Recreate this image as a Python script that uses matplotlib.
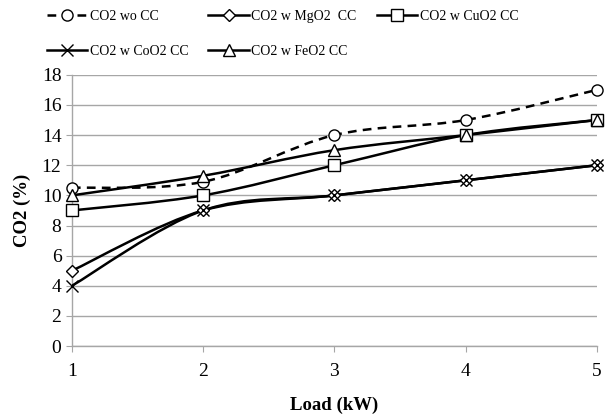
import matplotlib
matplotlib.use("Agg")
import matplotlib.pyplot as plt
import numpy as np
from matplotlib.path import Path
from matplotlib.patches import PathPatch
from matplotlib.lines import Line2D

plt.rcParams['font.family'] = ['Liberation Serif', 'DejaVu Serif']

load = [1, 2, 3, 4, 5]
co2_wo = [10.5, 10.9, 14, 15, 17]
co2_mgo = [5, 9, 10, 11, 12]
co2_cuo = [9, 10, 12, 14, 15]
co2_coo = [4, 9, 10, 11, 12]
co2_feo = [10, 11.3, 13, 14, 15]

labels = ["CO2 wo CC", "CO2 w MgO2  CC", "CO2 w CuO2 CC", "CO2 w CoO2 CC", "CO2 w FeO2 CC"]
series = [co2_wo, co2_mgo, co2_cuo, co2_coo, co2_feo]
markers = ["o", "D", "s", "x", "^"]
msizes = [8, 6.5, 8, 8.5, 8]
styles = [(0, (3.5, 2.5)), "-", "-", "-", "-"]


def smooth_path(x, y):
    # catmull-rom style bezier, like excel's smoothed line
    x = np.asarray(x, float)
    y = np.asarray(y, float)
    verts = [(x[0], y[0])]
    codes = [Path.MOVETO]
    n = len(x)
    for i in range(n - 1):
        i0 = max(i - 1, 0)
        i3 = min(i + 2, n - 1)
        c1 = (x[i] + (x[i + 1] - x[i0]) / 6, y[i] + (y[i + 1] - y[i0]) / 6)
        c2 = (x[i + 1] - (x[i3] - x[i]) / 6, y[i + 1] - (y[i3] - y[i]) / 6)
        verts += [c1, c2, (x[i + 1], y[i + 1])]
        codes += [Path.CURVE4] * 3
    return Path(verts, codes)


fig = plt.figure(figsize=(6.14, 4.18), dpi=100)
ax = fig.add_axes([0.117, 0.172, 0.855, 0.649])

handles = []
for y, lab, m, ms, ls in zip(series, labels, markers, msizes, styles):
    patch = PathPatch(smooth_path(load, y), fill=False, edgecolor="black",
                      lw=1.8, linestyle=ls, zorder=3)
    ax.add_patch(patch)
    ax.plot(load, y, linestyle="none", marker=m, ms=ms, mfc="white" if m != "x" else "black",
            mec="black", mew=1.0, zorder=4, clip_on=False)
    handles.append(Line2D([], [], color="black", lw=1.8, linestyle=ls, marker=m, ms=ms,
                          mfc="white", mec="black", mew=1.0))

ax.set_xlim(1, 5)
ax.set_ylim(0, 18)
ax.set_xticks(load)
ax.set_yticks(np.arange(0, 19, 2))
ax.grid(axis="y", color="#a6a6a6", lw=1.0)
ax.set_axisbelow(True)
for s in ["top", "right"]:
    ax.spines[s].set_visible(False)
for s in ["left", "bottom"]:
    ax.spines[s].set_color("#a6a6a6")
    ax.spines[s].set_linewidth(1.0)
ax.tick_params(axis="both", colors="#a6a6a6", labelcolor="black", labelsize=14, length=4)
ax.tick_params(axis="x", pad=8)
ax.set_xlabel("Load (kW)", fontsize=13.5, fontweight="bold", labelpad=12)
ax.set_ylabel("CO2 (%)", fontsize=13.5, fontweight="bold", labelpad=8)

order = [0, 3, 1, 4, 2]
fig.legend([handles[i] for i in order], [labels[i] for i in order], ncol=3,
           loc="upper left", bbox_to_anchor=(0.06, 1.0), frameon=False, fontsize=10,
           handlelength=2.9, handletextpad=0.2, columnspacing=1.45, labelspacing=1.6,
           borderaxespad=0.3)

fig.savefig("out.png", dpi=100)
